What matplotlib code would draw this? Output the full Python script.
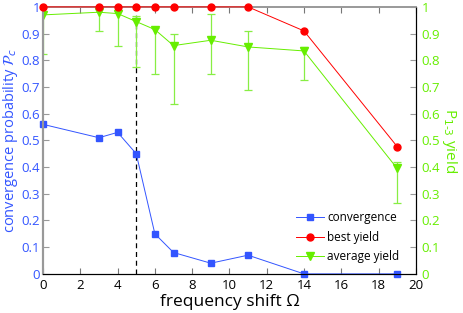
import matplotlib
matplotlib.use("Agg")
import matplotlib.pyplot as plt
import numpy as np

plt.rcParams['font.family'] = ['Open Sans', 'DejaVu Sans']

omega = [0, 3, 4, 5, 6, 7, 9, 11, 14, 19]
convergence = [0.56, 0.51, 0.53, 0.45, 0.15, 0.08, 0.04, 0.07, 0.0, 0.0]
best_yield = [1.0, 1.0, 1.0, 1.0, 1.0, 1.0, 1.0, 1.0, 0.91, 0.477]
avg_yield = [0.97, 0.98, 0.975, 0.945, 0.915, 0.855, 0.875, 0.85, 0.835, 0.395]
avg_upper = [1.0, 1.0, 0.99, 0.967, 0.92, 0.90, 0.973, 0.911, 0.849, 0.418]
avg_lower = [0.824, 0.908, 0.853, 0.775, 0.749, 0.637, 0.748, 0.687, 0.725, 0.266]
threshold = 5

blue = '#3355ff'
red = '#ff0000'
green = '#66ee00'
green_err = '#88ee44'
tick_labels = ['0', '0.1', '0.2', '0.3', '0.4', '0.5', '0.6', '0.7', '0.8', '0.9', '1']

fig = plt.figure(figsize=(4.63, 3.13), dpi=100)
ax = fig.add_axes([0.093, 0.125, 0.805, 0.853])
ax2 = ax.twinx()

ax.set_xlim(0, 20)
ax.set_ylim(0, 1)
ax2.set_ylim(0, 1)

ax.plot([threshold, threshold], [0, 0.97], color='black', ls='--', lw=0.9, zorder=1, dashes=(4, 3))

l1, = ax.plot(omega, convergence, '-s', color=blue, lw=0.7, ms=4, label='convergence', zorder=3, clip_on=False)
l2, = ax2.plot(omega, best_yield, '-o', color=red, lw=0.7, ms=5, label='best yield', zorder=3, clip_on=False)
yerr = [np.array(avg_yield) - np.array(avg_lower), np.array(avg_upper) - np.array(avg_yield)]
ax2.errorbar(omega, avg_yield, yerr=yerr, fmt='none', ecolor=green_err, elinewidth=0.9, capsize=3, capthick=0.9, zorder=2)
l3, = ax2.plot(omega, avg_yield, '-v', color=green, lw=0.7, ms=5.5, label='average yield', zorder=2)

ax.set_xticks(range(0, 21, 2))
ax.set_yticks(np.linspace(0, 1, 11))
ax.set_yticklabels(tick_labels)
ax2.set_yticks(np.linspace(0, 1, 11))
ax2.set_yticklabels(tick_labels)

ax.tick_params(axis='x', direction='in', top=True, labelsize=9.5, length=4, colors='#777777', labelcolor='black', pad=4)
ax.tick_params(axis='y', direction='in', labelsize=9.5, length=4, colors='#999999', labelcolor=blue, pad=2)
ax2.tick_params(axis='y', direction='in', labelsize=9.5, length=4, colors='#999999', labelcolor='#66ee00', pad=4)

for a in (ax, ax2):
    a.spines['left'].set_color('#999999')
    a.spines['left'].set_linewidth(1.5)
    a.spines['top'].set_color('#999999')
    a.spines['top'].set_linewidth(1.2)
    a.spines['right'].set_color('black')
    a.spines['bottom'].set_color('black')

ax.set_xlabel('frequency shift Ω', fontsize=12.5, labelpad=1)
ax.set_ylabel('convergence probability $\\mathcal{P}_c$', fontsize=10.5, color=blue, labelpad=1)
ax2.set_ylabel('P$_{1\\text{-}3}$ yield', fontsize=11, color='#66ee00', rotation=270, labelpad=14)

leg = ax2.legend([l1, l2, l3], ['convergence', 'best yield', 'average yield'],
                 loc='lower right', bbox_to_anchor=(0.985, 0.0), frameon=False, fontsize=8.5,
                 handlelength=2.4, handletextpad=0.3, labelspacing=0.55)

fig.savefig('out.png', dpi=100)
